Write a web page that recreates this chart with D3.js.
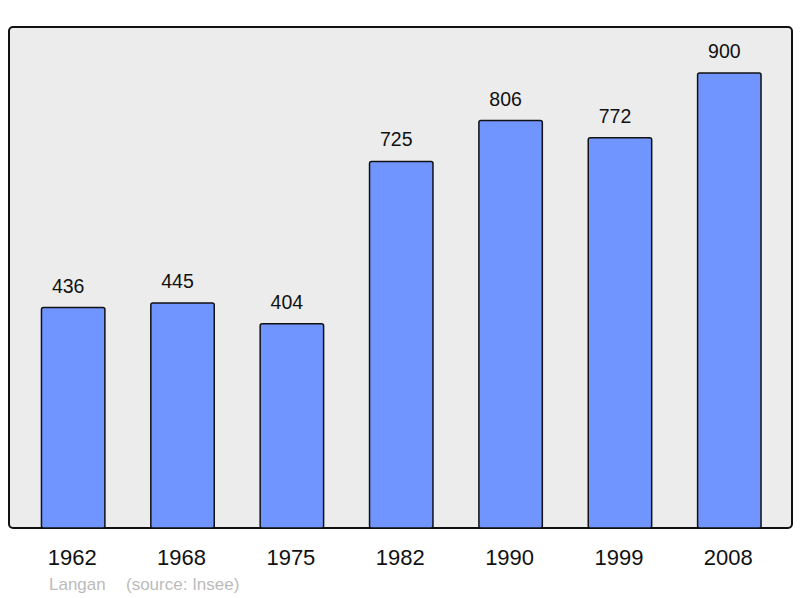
<!DOCTYPE html>
<html>
<head>
<meta charset="utf-8">
<script src="https://cdn.jsdelivr.net/npm/d3@7"></script>
<style>
  body { margin: 0; background: #fff; }
  text { font-family: "Liberation Sans", Arial, sans-serif; }
</style>
</head>
<body>
<script>
// population figures
var years = ["1962", "1968", "1975", "1982", "1990", "1999", "2008"];
var population = [436, 445, 404, 725, 806, 772, 900];
var townName = "Langan";
var sourceText = "(source: Insee)";

var width = 800, height = 598;
var frame = {left: 9, top: 27, right: 792, bottom: 528};

var svg = d3.select("body").append("svg")
  .attr("width", width)
  .attr("height", height);

svg.append("rect")
  .attr("x", frame.left)
  .attr("y", frame.top)
  .attr("width", frame.right - frame.left)
  .attr("height", frame.bottom - frame.top)
  .attr("rx", 4)
  .attr("fill", "#ececec")
  .attr("stroke", "#111")
  .attr("stroke-width", 2);

var x = d3.scaleBand()
  .domain(years)
  .range([18.5, 784])
  .paddingInner(0.42)
  .paddingOuter(0.21);

var y = d3.scaleLinear()
  .domain([0, 991])
  .range([frame.bottom, frame.top]);

var data = years.map((yr, i) => ({year: yr, value: population[i]}));

svg.selectAll("rect.bar").data(data)
  .enter()
  .append("rect")
  .attr("class", "bar")
  .attr("x", d => x(d.year))
  .attr("y", d => y(d.value))
  .attr("width", x.bandwidth())
  .attr("height", d => frame.bottom - y(d.value))
  .attr("rx", 2)
  .attr("fill", "#7095ff")
  .attr("stroke", "#111")
  .attr("stroke-width", 1.5);

svg.selectAll("text.val").data(data)
  .enter()
  .append("text")
  .attr("class", "val")
  .attr("x", d => x(d.year) + x.bandwidth() / 2 - 5)
  .attr("y", d => y(d.value) - 15)
  .attr("text-anchor", "middle")
  .attr("font-size", "19.5px")
  .attr("fill", "#111")
  .text(d => d.value);

svg.selectAll("text.year").data(data)
  .enter()
  .append("text")
  .attr("class", "year")
  .attr("x", d => x(d.year) + x.bandwidth() / 2 - 1)
  .attr("y", 565)
  .attr("text-anchor", "middle")
  .attr("font-size", "22px")
  .attr("fill", "#111")
  .text(d => d.year);

svg.append("text")
  .attr("x", 49)
  .attr("y", 590)
  .attr("font-size", "17px")
  .attr("fill", "#bbbbbb")
  .text(townName);

svg.append("text")
  .attr("x", 126)
  .attr("y", 590)
  .attr("font-size", "17px")
  .attr("fill", "#bbbbbb")
  .text(sourceText);
</script>
</body>
</html>
